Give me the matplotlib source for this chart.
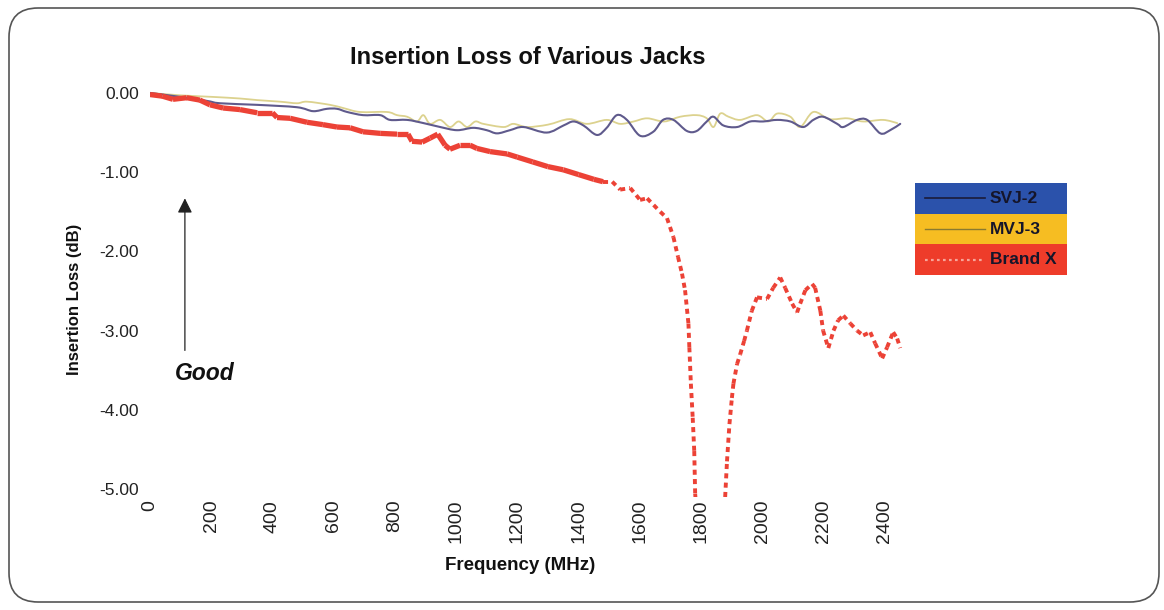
import matplotlib
matplotlib.use("Agg")
import matplotlib.pyplot as plt
import numpy as np
from matplotlib.collections import LineCollection
from matplotlib.patches import FancyBboxPatch, Rectangle, PathPatch
from matplotlib.path import Path
from matplotlib.lines import Line2D

plt.rcParams['font.family'] = ['Liberation Sans', 'DejaVu Sans']

# ---- data -------------------------------------------------------------
svj2_freq = [0, 100, 186, 229, 350, 480, 533, 578, 611, 644, 696, 752, 784,
             840, 893, 948, 1003, 1056, 1100, 1134, 1176, 1220, 1296, 1351,
             1383, 1416, 1460, 1492, 1525, 1558, 1601, 1644, 1676, 1710, 1754,
             1786, 1819, 1841, 1873, 1918, 1961, 2003, 2049, 2092, 2134, 2167,
             2199, 2245, 2265, 2310, 2343, 2386, 2418, 2451]
svj2_loss = [0.00, -0.05, -0.10, -0.13, -0.15, -0.18, -0.23, -0.20, -0.20,
             -0.24, -0.28, -0.28, -0.34, -0.34, -0.38, -0.43, -0.47, -0.44,
             -0.47, -0.51, -0.47, -0.43, -0.50, -0.41, -0.36, -0.41, -0.53,
             -0.44, -0.28, -0.34, -0.54, -0.49, -0.34, -0.34, -0.48, -0.48,
             -0.36, -0.30, -0.41, -0.43, -0.36, -0.36, -0.34, -0.36, -0.43,
             -0.34, -0.30, -0.39, -0.43, -0.34, -0.34, -0.51, -0.47, -0.39]

mvj3_freq = [0, 100, 206, 294, 350, 425, 480, 513, 588, 631, 686, 774, 807,
             840, 872, 893, 915, 948, 980, 1008, 1036, 1063, 1089, 1155, 1187,
             1232, 1300, 1370, 1427, 1492, 1536, 1580, 1624, 1680, 1732, 1786,
             1819, 1841, 1863, 1890, 1928, 1983, 2020, 2049, 2092, 2124, 2167,
             2220, 2278, 2330, 2395, 2441]
mvj3_loss = [0.00, -0.03, -0.05, -0.07, -0.09, -0.11, -0.13, -0.11, -0.15,
             -0.19, -0.24, -0.24, -0.28, -0.30, -0.36, -0.28, -0.39, -0.34,
             -0.43, -0.36, -0.43, -0.36, -0.39, -0.43, -0.39, -0.43, -0.40,
             -0.33, -0.39, -0.34, -0.39, -0.36, -0.32, -0.36, -0.30, -0.28,
             -0.32, -0.43, -0.26, -0.30, -0.34, -0.28, -0.36, -0.26, -0.30,
             -0.43, -0.24, -0.33, -0.32, -0.36, -0.34, -0.38]

brandx_freq = [0, 40, 75, 120, 163, 196, 239, 294, 350, 400, 415, 458, 513,
               565, 611, 654, 696, 752, 807, 843, 856, 889, 915, 940, 964,
               980, 1013, 1046, 1068, 1111, 1167, 1200, 1250, 1300, 1350,
               1400, 1450, 1480, 1510, 1536, 1569, 1601, 1624, 1667, 1689,
               1710, 1725, 1738, 1748, 1759, 1762, 1767, 1773, 1778, 1781,
               1800, 1840, 1870, 1879, 1885, 1893, 1901, 1906, 1918, 1928,
               1941, 1950, 1966, 1983, 2016, 2036, 2059, 2075, 2098, 2114,
               2124, 2141, 2163, 2173, 2190, 2199, 2216, 2233, 2248, 2265,
               2288, 2310, 2330, 2353, 2369, 2392, 2408, 2428, 2441, 2451]
brandx_loss = [-0.02, -0.04, -0.08, -0.06, -0.09, -0.15, -0.19, -0.21,
               -0.25, -0.25, -0.31, -0.32, -0.37, -0.40, -0.43, -0.44, -0.49,
               -0.51, -0.52, -0.52, -0.61, -0.62, -0.57, -0.52, -0.66, -0.71,
               -0.66, -0.66, -0.70, -0.74, -0.77, -0.81, -0.87, -0.93, -0.97,
               -1.03, -1.09, -1.12, -1.12, -1.22, -1.20, -1.35, -1.33, -1.50,
               -1.58, -1.82, -2.07, -2.28, -2.49, -2.91, -3.21, -3.67, -4.10,
               -4.52, -5.06, -6.00, -6.80, -6.00, -5.10, -4.65, -4.18, -3.85,
               -3.67, -3.42, -3.30, -3.13, -3.00, -2.75, -2.58, -2.60, -2.46,
               -2.33, -2.46, -2.66, -2.77, -2.66, -2.49, -2.41, -2.46, -2.75,
               -3.00, -3.22, -3.00, -2.87, -2.81, -2.91, -3.00, -3.06, -3.02,
               -3.16, -3.35, -3.21, -3.02, -3.10, -3.22]

x_ticks = [0, 200, 400, 600, 800, 1000, 1200, 1400, 1600, 1800, 2000, 2200, 2400]
y_ticks = [0, -1, -2, -3, -4, -5]
y_tick_labels = ['0.00', '-1.00', '-2.00', '-3.00', '-4.00', '-5.00']

series_names = ['SVJ-2', 'MVJ-3', 'Brand X']
line_colors = {'SVJ-2': '#5f5a8c', 'MVJ-3': '#dcd28e', 'Brand X': '#ec4236'}
band_colors = {'SVJ-2': '#2b52ab', 'MVJ-3': '#f6bd22', 'Brand X': '#ee3c2a'}


def smoothed_path(xs, ys):
    """Catmull-Rom curve through the points, expressed as cubic Beziers."""
    p = np.column_stack([xs, ys]).astype(float)
    verts = [tuple(p[0])]
    codes = [Path.MOVETO]
    n = len(p)
    for i in range(n - 1):
        p0 = p[i - 1] if i > 0 else p[i]
        p1, p2 = p[i], p[i + 1]
        p3 = p[i + 2] if i + 2 < n else p[i + 1]
        c1 = p1 + (p2 - p0) / 6.0
        c2 = p2 - (p3 - p1) / 6.0
        verts += [tuple(c1), tuple(c2), tuple(p2)]
        codes += [Path.CURVE4] * 3
    return Path(verts, codes)


# ---- figure -----------------------------------------------------------
W, H = 1164, 610
fig = plt.figure(figsize=(W / 100, H / 100), dpi=100)
fig.patch.set_facecolor('white')

# rounded frame around the whole chart
frame = FancyBboxPatch((9 / W, 8 / H), 1150 / W, 594 / H,
                       boxstyle="round,pad=0,rounding_size=0.025",
                       transform=fig.transFigure, fill=False,
                       edgecolor='#555555', linewidth=1.2, mutation_aspect=W / H)
fig.add_artist(frame)

ax = fig.add_axes([150 / W, 1 - 497 / H, 753 / W, (497 - 89) / H])
ax.set_xlim(0, 2460)
ax.set_ylim(-5.1, 0.05)
for s in ax.spines.values():
    s.set_visible(False)
ax.tick_params(length=0)

ax.set_xticks(x_ticks)
ax.set_xticklabels([str(v) for v in x_ticks], rotation=90, fontsize=14,
                   color='#222222', va='top')
ax.tick_params(axis='x', pad=2)
ax.set_yticks(y_ticks)
ax.set_yticklabels(y_tick_labels, fontsize=12.5, color='#222222')
ax.tick_params(axis='y', pad=8)

# SVJ-2 and MVJ-3 as thin smoothed lines
ax.add_patch(PathPatch(smoothed_path(mvj3_freq, mvj3_loss), fill=False,
                       edgecolor=line_colors['MVJ-3'], lw=1.3, zorder=3,
                       capstyle='round', joinstyle='round'))
ax.add_patch(PathPatch(smoothed_path(svj2_freq, svj2_loss), fill=False,
                       edgecolor=line_colors['SVJ-2'], lw=1.5, zorder=4,
                       capstyle='round', joinstyle='round'))

# Brand X: dotted line whose dash pattern restarts on every segment,
# so densely sampled stretches read as solid
bx = np.array(brandx_freq, dtype=float)
by = np.array(brandx_loss, dtype=float)
segs = [[(bx[i], by[i]), (bx[i + 1], by[i + 1])] for i in range(len(bx) - 1)]
styles = ['solid' if bx[i + 1] <= 1500 else (0, (1.3, 1.1))
          for i in range(len(bx) - 1)]
widths = [3.8 if bx[i + 1] <= 1500 else 2.8 for i in range(len(bx) - 1)]
lc = LineCollection(segs, colors=line_colors['Brand X'], linewidths=widths,
                    linestyles=styles, capstyle='butt', joinstyle='round',
                    zorder=5)
ax.add_collection(lc)

# titles
fig.text(528 / W, 1 - 57 / H, 'Insertion Loss of Various Jacks',
         ha='center', va='center', fontsize=17, fontweight='bold', color='#111111')
fig.text(520 / W, 1 - 566 / H, 'Frequency (MHz)', ha='center', va='center',
         fontsize=13.5, fontweight='bold', color='#111111')
fig.text(74 / W, 1 - 299 / H, 'Insertion Loss (dB)', ha='center', va='center',
         rotation=90, fontsize=12, fontweight='bold', color='#111111')

# "Good" arrow
ax.annotate('', xy=(114, -1.33), xytext=(114, -3.25),
            arrowprops=dict(arrowstyle='-|>', color='#222222', lw=0.9,
                            mutation_scale=22, shrinkA=0, shrinkB=0))
ax.text(82, -3.54, 'Good', fontsize=16.5, fontweight='bold', fontstyle='italic',
        ha='left', va='center', color='#111111')

# legend: coloured bands with line samples and labels
band_top, band_h = 183, 30.7
for i, name in enumerate(series_names):
    y0 = band_top + i * band_h
    fig.add_artist(Rectangle((915 / W, 1 - (y0 + band_h) / H), 152 / W, band_h / H,
                             transform=fig.transFigure, facecolor=band_colors[name],
                             edgecolor='none', zorder=1))
    yc = 1 - (y0 + band_h / 2) / H
    if name == 'SVJ-2':
        ln = Line2D([925 / W, 985 / W], [yc, yc], color='#1b1b3a', lw=1.2,
                    transform=fig.transFigure)
    elif name == 'MVJ-3':
        ln = Line2D([925 / W, 985 / W], [yc, yc], color='#8a7a30', lw=1.0,
                    transform=fig.transFigure)
    else:
        ln = Line2D([925 / W, 985 / W], [yc, yc], color='#f7a59a', lw=1.6,
                    linestyle=(0, (1.2, 1.5)), transform=fig.transFigure)
    ln.set_zorder(2)
    fig.add_artist(ln)
    fig.text(990 / W, yc, name, ha='left', va='center', fontsize=12.5,
             fontweight='bold', color='#15152a', zorder=3)

fig.savefig('out.png', dpi=100, facecolor='white')
